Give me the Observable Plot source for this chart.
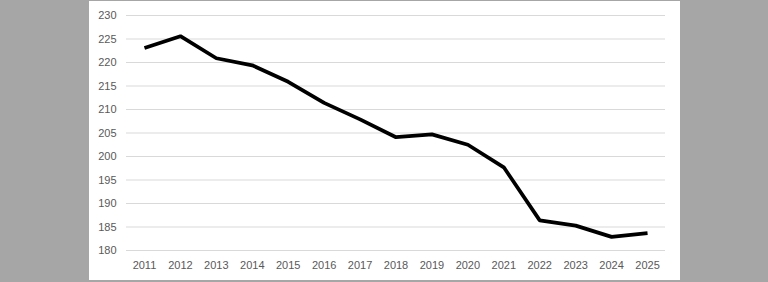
<!DOCTYPE html>
<html>
<head>
<meta charset="utf-8">
<script src="https://cdn.jsdelivr.net/npm/d3@7"></script>
<script src="https://cdn.jsdelivr.net/npm/@observablehq/plot@0.6"></script>
<style>
  html, body { margin: 0; padding: 0; background: #a6a6a6; width: 768px; height: 282px; overflow: hidden; }
  #chart { position: absolute; left: 89px; top: 1px; width: 591px; height: 279px; background: #ffffff; }
  #chart svg { display: block; background: #ffffff; }
</style>
</head>
<body>
<div id="chart"></div>
<script>
const years = ["2011","2012","2013","2014","2015","2016","2017","2018","2019","2020","2021","2022","2023","2024","2025"];
const values = [223.1, 225.6, 220.9, 219.4, 215.9, 211.4, 207.9, 204.1, 204.7, 202.5, 197.7, 186.4, 185.3, 182.9, 183.7];
const yTicks = [180, 185, 190, 195, 200, 205, 210, 215, 220, 225, 230];

const data = years.map((y, i) => ({ year: y, value: values[i] }));

const chart = Plot.plot({
  width: 591,
  height: 279,
  marginLeft: 37,
  marginRight: 15,
  marginTop: 14,
  marginBottom: 30,
  style: { fontFamily: "'Liberation Sans', Arial, sans-serif", fontSize: "11px", color: "#595959", background: "#ffffff" },
  x: { type: "point", domain: years, padding: 0.5, round: false },
  y: { domain: [180, 230] },
  marks: [
    Plot.gridY(yTicks, { stroke: "#d9d9d9", strokeOpacity: 1, strokeWidth: 1 }),
    Plot.axisY(yTicks, { tickSize: 0, tickPadding: 10, fill: "#595959", label: null }),
    Plot.axisX(years, { tickSize: 0, tickPadding: 11, fill: "#595959", label: null }),
    Plot.line(data, { x: "year", y: "value", stroke: "#000000", strokeWidth: 3.75, strokeLinejoin: "miter", strokeLinecap: "butt" })
  ]
});
document.getElementById("chart").appendChild(chart);
</script>
</body>
</html>
